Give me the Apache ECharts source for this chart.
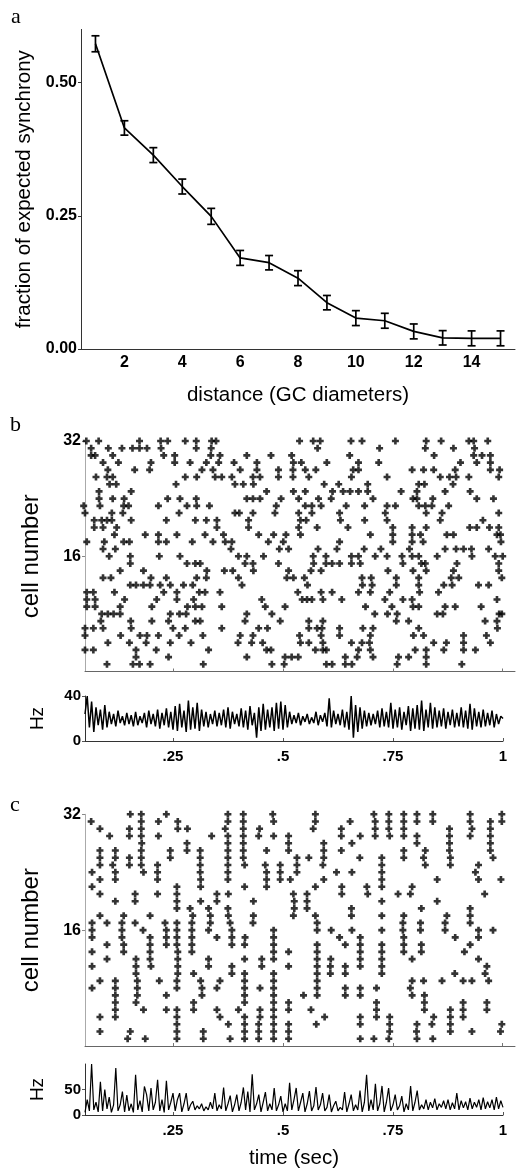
<!DOCTYPE html>
<html>
<head>
<meta charset="utf-8">
<script src="https://cdn.jsdelivr.net/npm/echarts@6/dist/echarts.min.js"></script>
<style>
  html, body { margin: 0; padding: 0; background: #fff; }
  #chart { width: 518px; height: 1171px; }
</style>
</head>
<body>
<div id="chart"></div>
<script>
// ---- panel a: synchrony versus distance ----
const distance = [1, 2, 3, 4, 5, 6, 7, 8, 9, 10, 11, 12, 13, 14, 15];
const synchrony = [0.573, 0.415, 0.364, 0.305, 0.249, 0.171, 0.162, 0.133, 0.087, 0.058, 0.053, 0.033, 0.021, 0.020, 0.020];
const synchronyErr = [0.015, 0.0135, 0.014, 0.014, 0.015, 0.014, 0.0135, 0.014, 0.0135, 0.014, 0.014, 0.014, 0.0135, 0.014, 0.014];
const distanceTicks = [2, 4, 6, 8, 10, 12, 14];
const synchronyTicks = [0, 0.25, 0.5];

// ---- panel b: spike times (ms) per cell, cell 32 first ----
const spikesB = [
  [53,81,174,222,238,278,303,338,348,538,569,585,655,680,756,826,860,923,934,966],
  [64,103,134,158,174,191,223,303,337,579,720,824,888,936],
  [64,73,113,229,254,336,357,418,473,520,652,844,934,953,972],
  [91,126,200,254,289,326,354,389,441,524,542,600,672,718,904,941,972],
  [102,163,197,316,341,403,441,490,523,551,575,660,672,794,820,843,892,972,993],
  [75,100,113,278,304,346,361,384,432,448,490,523,559,656,737,858,879,894,923,991],
  [106,121,257,391,410,433,594,627,693,809,822,887],
  [82,155,463,524,551,613,637,653,672,693,769,805,869,926],
  [82,113,139,238,266,303,418,432,448,496,536,581,610,705,796,805,841,941,979],
  [47,84,138,149,217,282,304,333,485,551,566,587,644,686,737,756,809,824,839,877],
  [50,111,136,264,391,401,432,482,536,566,629,733,826,862,991],
  [71,88,100,111,155,235,301,326,350,422,540,553,631,686,737,858,955],
  [71,91,122,350,422,536,578,648,750,794,826,925,941,970,991],
  [117,187,217,259,323,365,445,479,507,540,699,750,794,813,873,888,987,995],
  [54,94,138,151,217,235,294,341,369,384,467,501,629,750,794,819,996],
  [91,119,382,492,513,580,623,685,723,788,869,894,911,929,968],
  [105,153,219,266,399,418,456,569,598,656,672,710,737,771,794,809,851,930,983,1000],
  [153,282,301,312,414,432,490,570,598,612,629,656,676,773,815,824,896,991],
  [130,183,327,367,386,433,513,564,587,739,796,826,888,991],
  [91,109,200,235,304,326,399,509,524,549,680,701,758,809,883,900,998],
  [153,166,183,198,221,244,274,295,407,556,681,703,758,809,866,885,945,968],
  [54,69,117,229,259,310,323,357,534,587,612,672,699,743,811,854],
  [54,73,140,213,259,297,452,544,555,566,591,634,732,773,794,987],
  [54,73,130,202,283,301,316,361,460,505,688,748,796,809,869,892,951],
  [88,102,115,130,244,265,280,418,475,709,738,760,851,864,992,998],
  [86,154,202,240,301,312,414,494,559,591,758,786,960,987],
  [50,69,91,155,250,278,361,445,465,559,578,589,629,682,705,809,988],
  [50,131,175,191,217,264,318,403,432,538,587,629,699,797,820,911,963],
  [102,151,189,244,291,398,429,454,540,559,591,656,680,697,843,872,911,972],
  [50,69,166,212,331,463,473,574,591,599,672,699,801,826,866,911,938],
  [166,240,418,505,520,535,642,669,705,763,786,826],
  [100,159,174,198,319,475,503,599,612,642,657,760,826,907]
];

// ---- panel c: spike times (ms) per cell, cell 32 first ----
const spikesC = [
  [153,178,235,375,410,477,574,707,741,775,805,841,926,998],
  [64,178,217,261,375,410,479,574,653,710,741,775,805,841,926,972,998],
  [84,151,178,261,283,369,410,447,569,633,710,741,775,879,930,972],
  [106,151,178,217,338,375,410,445,479,513,633,676,710,743,775,805,879,926,972],
  [179,282,375,410,513,593,657,805,879,972],
  [84,119,178,244,282,312,375,410,463,513,593,633,775,824,879,972],
  [84,119,151,178,244,312,375,410,532,559,593,675,725,775,820,881,978],
  [84,113,151,178,215,312,375,413,460,494,532,591,725,824,881,945],
  [66,119,183,215,312,375,463,494,532,622,657,725,938],
  [84,119,215,313,375,463,494,517,593,725,851,945,996],
  [66,259,313,413,463,574,634,691,725,794],
  [84,164,215,259,350,376,524,555,634,693,762,790,959],
  [119,164,259,313,350,433,526,555,725,851],
  [259,289,331,375,526,555,656,815,926],
  [84,138,198,295,335,376,433,524,574,656,725,775,873,926],
  [66,100,134,164,232,259,293,335,380,432,578,773,813,869,926],
  [66,134,182,235,259,293,331,384,479,578,610,657,725,773,813,869,945,978],
  [66,134,198,235,259,293,350,384,414,479,629,676,775,892,945],
  [100,138,198,235,259,293,384,413,479,578,642,676,725,775,815,926],
  [66,138,198,261,293,479,513,578,676,725,775,815,913],
  [100,166,198,261,331,413,452,479,578,609,676,725,794,945],
  [66,166,200,261,331,384,452,513,578,608,642,676,725,964],
  [166,261,297,384,413,479,578,608,642,725,891,960],
  [84,119,169,219,259,313,357,413,479,578,794,820,862,910,930,968],
  [66,119,169,259,316,350,413,448,479,578,642,676,713,790],
  [119,169,235,316,413,479,547,578,642,676,794,822],
  [119,166,297,413,479,513,713,822,910,964],
  [119,183,235,259,297,350,399,448,479,513,564,713,822,881,910,964],
  [84,119,259,357,413,448,479,595,676,713,743,843,881,910],
  [259,376,413,445,479,513,576,676,743,805,839,881,998],
  [84,153,259,319,413,445,479,513,743,804,881,930,995],
  [147,187,259,319,380,413,445,479,513,676,707,741,805,841]
];

// ---- population rate traces (Hz), sampled every 5 ms from 0.05 s to 1 s ----
const rateStart = 0.05;
const rateStep = 0.005;
const rateB = [
  24,40,12,35,8,30,14,28,10,32,12,
  26,15,24,13,27,16,22,14,25,15,
  23,13,26,14,22,16,25,12,27,15,
  24,13,28,11,25,14,29,12,26,10,
  31,9,33,12,27,8,36,10,30,11,
  34,9,28,13,26,12,24,15,27,13,
  25,14,28,12,30,11,26,15,24,13,
  29,12,27,10,31,14,25,3,30,9,
  33,10,28,12,30,9,34,11,35,10,
  32,12,26,15,23,16,25,14,22,17,
  24,15,21,16,26,14,23,17,25,13,
  38,12,27,15,24,14,28,12,26,10,
  40,3,32,8,30,11,27,13,25,14,
  24,15,27,12,29,13,26,12,34,11,
  28,12,30,10,26,14,31,9,29,11,
  32,10,36,9,28,12,34,11,30,12,
  27,13,29,11,26,14,28,12,25,13,
  30,12,27,11,33,10,29,13,26,12,
  28,13,25,14,27,12,24,15,22,20
];
const rateC = [
  5,30,8,100,10,25,6,65,8,50,12,
  35,5,20,92,8,20,46,6,39,8,
  22,5,79,10,28,6,56,40,8,53,
  10,25,69,8,30,5,67,10,25,43,
  8,30,43,6,22,43,8,20,27,10,
  18,12,22,8,16,10,25,12,43,8,
  20,12,54,8,22,38,6,20,40,8,
  25,54,10,46,6,80,10,22,40,6,
  25,45,8,22,10,53,8,20,37,6,
  22,8,63,10,30,53,8,25,43,6,
  22,47,8,18,55,10,20,43,8,15,
  40,6,18,27,8,15,10,45,6,22,
  40,8,20,10,48,6,25,79,8,30,
  10,61,8,22,57,6,25,53,8,20,
  40,10,18,37,6,22,10,57,8,25,
  48,10,20,12,30,10,25,14,32,10,
  22,15,28,12,30,10,24,12,43,10,
  28,14,26,10,33,12,25,15,30,10,
  34,12,26,14,30,10,35,12,28,15
];
const timeTicks = [0.25, 0.5, 0.75, 1];
const cellTicks = [16, 32];
const hzTicksB = [0, 40];
const hzTicksC = [0, 50];

// ---- helpers ----
function rasterPoints(rows) {
  const pts = [];
  rows.forEach((times, k) => {
    const cell = 32 - k;
    times.forEach(ms => pts.push([ms / 1000, cell]));
  });
  return pts;
}
function ratePoints(values) {
  return values.map((v, i) => [+(rateStart + i * rateStep).toFixed(3), v]);
}
const timeFmt = v => (v === 1 ? '1' : String(v).replace(/^0/, ''));

const tickFont = { color: '#000', fontWeight: 'bold', fontFamily: '"Liberation Sans", Arial, sans-serif' };
const nameFont = { color: '#000', fontFamily: '"Liberation Sans", Arial, sans-serif' };
// bold plus sign used for each spike
const plusSymbol = 'path://M2.5,0h3v2.5h2.5v3h-2.5v2.5h-3v-2.5h-2.5v-3h2.5z';

function rasterX(grid) {
  return {
    type: 'value', gridIndex: grid, min: 0.05, max: 1.028,
    axisLine: { lineStyle: { color: '#666', width: 1 } },
    axisTick: { show: true, inside: true, length: 3, customValues: timeTicks, lineStyle: { color: '#777' } },
    axisLabel: { show: false },
    splitLine: { show: false }
  };
}
function rasterY(grid) {
  return {
    type: 'value', gridIndex: grid, min: 0, max: 32,
    axisLine: { show: true, lineStyle: { color: '#aaa', width: 1 } },
    axisTick: { show: true, length: 3, customValues: cellTicks, lineStyle: { color: '#888' } },
    axisLabel: { ...tickFont, fontSize: 16, margin: 4, customValues: cellTicks },
    splitLine: { show: false },
    name: 'cell number', nameLocation: 'middle', nameGap: 42,
    nameTextStyle: { ...nameFont, fontSize: 24 }
  };
}
function rateX(grid, withName) {
  const ax = {
    type: 'value', gridIndex: grid, min: 0.05, max: 1,
    axisLine: { lineStyle: { color: '#333', width: 1 } },
    axisTick: { show: true, inside: true, length: 3, customValues: timeTicks, lineStyle: { color: '#555' } },
    axisLabel: { ...tickFont, fontSize: 15, margin: 8, customValues: timeTicks, formatter: timeFmt },
    splitLine: { show: false }
  };
  if (withName) {
    ax.name = 'time (sec)';
    ax.nameLocation = 'middle';
    ax.nameGap = 33;
    ax.nameTextStyle = { ...nameFont, fontSize: 20.5 };
  }
  return ax;
}
function rateY(grid, max, ticks) {
  return {
    type: 'value', gridIndex: grid, min: 0, max: max,
    axisLine: { show: true, lineStyle: { color: '#333', width: 1 } },
    axisTick: { show: true, length: 3, customValues: ticks, lineStyle: { color: '#555' } },
    axisLabel: { ...tickFont, fontSize: 15, margin: 4, customValues: ticks },
    splitLine: { show: false },
    name: 'Hz', nameLocation: 'middle', nameGap: 38,
    nameTextStyle: { ...nameFont, fontSize: 19 }
  };
}

const chart = echarts.init(document.getElementById('chart'), null, { renderer: 'canvas' });
chart.setOption({
  animation: false,
  backgroundColor: '#fff',
  grid: [
    { left: 81, top: 29.4, width: 434, height: 319.6 },
    { left: 85, top: 441, width: 430, height: 230.5 },
    { left: 85, top: 696, width: 418, height: 45 },
    { left: 85, top: 814.3, width: 430, height: 231.7 },
    { left: 85, top: 1064, width: 418, height: 51 }
  ],
  xAxis: [
    {
      type: 'value', gridIndex: 0, min: 0.5, max: 15.5,
      axisLine: { lineStyle: { color: '#333', width: 1 } },
      axisTick: { show: false },
      axisLabel: { ...tickFont, fontSize: 16, margin: 6, customValues: distanceTicks },
      splitLine: { show: false },
      name: 'distance (GC diameters)', nameLocation: 'middle', nameGap: 36,
      nameTextStyle: { ...nameFont, fontSize: 20.5 }
    },
    rasterX(1),
    rateX(2, false),
    rasterX(3),
    rateX(4, true)
  ],
  yAxis: [
    {
      type: 'value', gridIndex: 0, min: 0, max: 0.6,
      axisLine: { show: true, lineStyle: { color: '#333', width: 1 } },
      axisTick: { show: true, length: 3, customValues: synchronyTicks, lineStyle: { color: '#333' } },
      axisLabel: { ...tickFont, fontSize: 16, margin: 4, customValues: synchronyTicks, formatter: v => v.toFixed(2) },
      splitLine: { show: false },
      name: 'fraction of expected synchrony', nameLocation: 'middle', nameGap: 39,
      nameTextStyle: { ...nameFont, fontSize: 20.5 }
    },
    rasterY(1),
    rateY(2, 40, hzTicksB),
    rasterY(3),
    rateY(4, 100, hzTicksC)
  ],
  graphic: [
    { type: 'text', left: 11, top: 6, style: { text: 'a', font: '22px "Liberation Serif", serif', fill: '#000' } },
    { type: 'text', left: 10, top: 414, style: { text: 'b', font: '22px "Liberation Serif", serif', fill: '#000' } },
    { type: 'text', left: 10, top: 794, style: { text: 'c', font: '22px "Liberation Serif", serif', fill: '#000' } }
  ],
  series: [
    {
      type: 'line', xAxisIndex: 0, yAxisIndex: 0,
      data: distance.map((d, i) => [d, synchrony[i]]),
      symbol: 'none', lineStyle: { color: '#000', width: 1.7 }, silent: true
    },
    {
      type: 'custom', xAxisIndex: 0, yAxisIndex: 0,
      data: distance.map((d, i) => [d, synchrony[i] - synchronyErr[i], synchrony[i] + synchronyErr[i]]),
      renderItem: (params, api) => {
        const lo = api.coord([api.value(0), api.value(1)]);
        const hi = api.coord([api.value(0), api.value(2)]);
        const w = 4;
        const style = { stroke: '#000', lineWidth: 1.7, fill: null };
        return {
          type: 'group',
          children: [
            { type: 'line', shape: { x1: lo[0], y1: lo[1], x2: hi[0], y2: hi[1] }, style },
            { type: 'line', shape: { x1: lo[0] - w, y1: lo[1], x2: lo[0] + w, y2: lo[1] }, style },
            { type: 'line', shape: { x1: hi[0] - w, y1: hi[1], x2: hi[0] + w, y2: hi[1] }, style }
          ]
        };
      },
      silent: true
    },
    {
      type: 'scatter', xAxisIndex: 1, yAxisIndex: 1,
      data: rasterPoints(spikesB),
      symbol: plusSymbol, symbolSize: 7, clip: false,
      itemStyle: { color: '#000' }, silent: true
    },
    {
      type: 'line', xAxisIndex: 2, yAxisIndex: 2,
      data: ratePoints(rateB),
      symbol: 'none', lineStyle: { color: '#000', width: 1.5 }, silent: true
    },
    {
      type: 'scatter', xAxisIndex: 3, yAxisIndex: 3,
      data: rasterPoints(spikesC),
      symbol: plusSymbol, symbolSize: 7, clip: false,
      itemStyle: { color: '#000' }, silent: true
    },
    {
      type: 'line', xAxisIndex: 4, yAxisIndex: 4,
      data: ratePoints(rateC),
      symbol: 'none', lineStyle: { color: '#000', width: 1.2 }, silent: true
    }
  ]
});
</script>
</body>
</html>
